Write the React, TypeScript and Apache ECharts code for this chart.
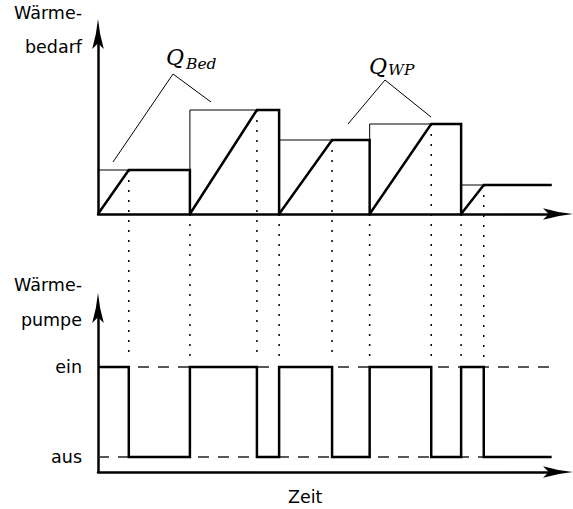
import React, { useEffect, useRef } from "react";
import * as echarts from "echarts";

// ---- data (time in arbitrary units, demand in arbitrary heat units) ----
const periodStarts = [0, 10.15, 20, 30, 40.1];
const periodEndTime = 50.1;
const demandLevels = [4.4, 10.4, 7.4, 9.0, 2.9];
const rampEnds = [3.4, 17.55, 25.85, 36.8, 42.6];
const stateValues = [0, 1];
const stateLabels = ["aus", "ein"];

const ARROW = "path://M6,0 Q7.5,16 12,31 L6,25 L0,31 Q4.5,16 6,0 Z";
const FONT = "DejaVu Sans";
const MATH = "DejaVu Serif";

function buildDemand(): number[][] {
  const d = periodStarts.map((t, i) => [t, demandLevels[i]]);
  d.push([periodEndTime, demandLevels[demandLevels.length - 1]]);
  return d;
}

function buildOutput(): number[][] {
  const d: number[][] = [];
  periodStarts.forEach((t, i) => {
    const next = i < periodStarts.length - 1 ? periodStarts[i + 1] : periodEndTime;
    d.push([t, 0]);
    d.push([rampEnds[i], demandLevels[i]]);
    d.push([next, demandLevels[i]]);
    if (i < periodStarts.length - 1) d.push([next, 0]);
  });
  return d;
}

function buildState(): number[][] {
  const d: number[][] = [];
  periodStarts.forEach((t, i) => {
    d.push([t, 1]);
    d.push([rampEnds[i], 0]);
  });
  d.push([periodEndTime, 0]);
  return d;
}

function axisLine(show = true) {
  return {
    show,
    onZero: false,
    symbol: ["none", ARROW],
    symbolSize: [13, 30],
    lineStyle: { color: "#000", width: 2.5 },
  };
}

export default function App() {
  const ref = useRef<HTMLDivElement>(null);
  useEffect(() => {
    if (!ref.current) return;
    const chart = echarts.init(ref.current, null, { renderer: "svg" });
    const hidden = {
      axisTick: { show: false },
      axisLabel: { show: false },
      splitLine: { show: false },
    };
    chart.setOption({
      animation: false,
      grid: [
        { left: 98, top: 34, width: 460, height: 180 },
        { left: 98, top: 308, width: 460, height: 164 },
      ],
      xAxis: [
        { type: "value", gridIndex: 0, min: 0, max: 50.8, axisLine: axisLine(), ...hidden },
        { type: "value", gridIndex: 1, min: 0, max: 50.8, axisLine: axisLine(), ...hidden },
      ],
      yAxis: [
        { type: "value", gridIndex: 0, min: 0, max: 18, axisLine: axisLine(), ...hidden },
        {
          type: "value",
          gridIndex: 1,
          min: -0.1667,
          max: 1.6556,
          axisLine: axisLine(),
          axisTick: { show: false },
          splitLine: { show: false },
          axisLabel: {
            show: true,
            customValues: stateValues,
            margin: 16,
            color: "#000",
            fontFamily: FONT,
            fontSize: 17.5,
            formatter: (v: number) => stateLabels[stateValues.indexOf(Math.round(v))] ?? "",
          },
        },
      ],
      series: [
        {
          type: "line",
          xAxisIndex: 0,
          yAxisIndex: 0,
          data: buildDemand(),
          step: "end",
          showSymbol: false,
          silent: true,
          z: 2,
          lineStyle: { color: "#000", width: 1, join: "miter" },
        },
        {
          type: "line",
          xAxisIndex: 0,
          yAxisIndex: 0,
          data: buildOutput(),
          showSymbol: false,
          silent: true,
          z: 3,
          lineStyle: { color: "#000", width: 2.5, join: "miter" },
        },
        ...stateValues.map((s) => ({
          type: "line",
          xAxisIndex: 1,
          yAxisIndex: 1,
          data: [
            [0, s],
            [periodEndTime, s],
          ],
          showSymbol: false,
          silent: true,
          z: 1,
          lineStyle: { color: "#222", width: 1.3, type: [11, 9] },
        })),
        {
          type: "line",
          xAxisIndex: 1,
          yAxisIndex: 1,
          data: buildState(),
          step: "end",
          showSymbol: false,
          silent: true,
          z: 3,
          lineStyle: { color: "#000", width: 2.5, join: "miter" },
        },
      ],
    });

    const graphics: any[] = [];
    const dotted = (t: number, topVal: number) => {
      const p1 = chart.convertToPixel({ gridIndex: 0 }, [t, topVal]) as number[];
      const p2 = chart.convertToPixel({ gridIndex: 1 }, [t, 1]) as number[];
      graphics.push({
        type: "line",
        silent: true,
        z: 0,
        shape: { x1: p1[0], y1: p1[1], x2: p2[0], y2: p2[1] - 9 },
        style: { stroke: "#000", lineWidth: 1.5, lineDash: [2, 8] },
      });
    };
    periodStarts.forEach((t, i) => {
      if (i > 0) dotted(t, 0);
      dotted(rampEnds[i], demandLevels[i]);
    });

    const label = (text: string, x: number, y: number, size = 17.5, family = FONT, style = "normal") => ({
      type: "text",
      x,
      y,
      silent: true,
      style: {
        text,
        fill: "#000",
        fontFamily: family,
        fontSize: size,
        fontStyle: style,
        align: "left",
        verticalAlign: "middle",
      },
    });
    const rlabel = (text: string, x: number, y: number) => {
      const l: any = label(text, x, y);
      l.style.align = "right";
      return l;
    };
    graphics.push(rlabel("Wärme-", 82, 12.5));
    graphics.push(rlabel("bedarf", 82, 47));
    graphics.push(rlabel("Wärme-", 82, 284.5));
    graphics.push(rlabel("pumpe", 82, 320));
    graphics.push(label("Zeit", 288, 497));

    graphics.push(label("Q", 166, 57, 22, MATH, "italic"));
    graphics.push(label("Bed", 186, 63.5, 15.5, MATH, "italic"));
    graphics.push(label("Q", 369, 66.5, 22, MATH, "italic"));
    graphics.push(label("WP", 388, 69.5, 15.5, MATH, "italic"));

    const leader = (x1: number, y1: number, x2: number, y2: number) => ({
      type: "line",
      silent: true,
      shape: { x1, y1, x2, y2 },
      style: { stroke: "#000", lineWidth: 1 },
    });
    graphics.push(leader(173, 74, 113, 162));
    graphics.push(leader(173, 74, 211, 102));
    graphics.push(leader(385, 80, 348, 124));
    graphics.push(leader(385, 80, 431, 117));

    chart.setOption({ graphic: graphics });

    return () => chart.dispose();
  }, []);

  return (
    <div
      ref={ref}
      style={{ position: "absolute", left: 0, top: 0, width: 573, height: 509, background: "#fff" }}
    />
  );
}
